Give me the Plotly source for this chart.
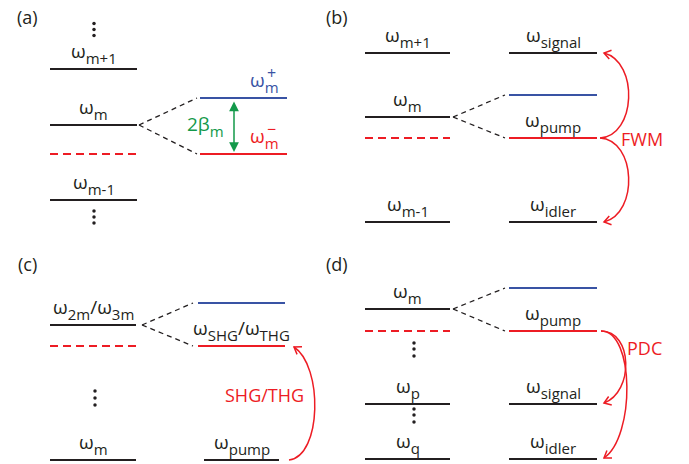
import math
import plotly.graph_objects as go

W, H = 689, 464
FONT = "Open Sans"
BLACK = "#231f20"
RED = "#ed1c24"
BLUE = "#3953a4"
GREEN = "#13994a"

# ---- level energies (diagram units, 0 = bottom edge) ----
# (a) ring ladder and the split doublet of mode m
a_names = ["m+1", "m", "m-1"]
a_levels = [395, 339, 264]
a_shifted = 310
a_split = [366, 310]          # ω_m^+, ω_m^-

# (b) four-wave mixing
b_names = ["m+1", "m", "m-1"]
b_levels = [411, 347, 242]
b_shifted = 326
b_split = [369, 326]
b_proc_names = ["signal", "pump", "idler"]
b_proc_levels = [411, 326, 242]

# (c) second/third harmonic generation
c_names = ["2m", "m"]
c_levels = [139, 4]
c_shifted = 118
c_split = [161, 118]
c_pump = 4

# (d) parametric down-conversion
d_names = ["m", "p", "q"]
d_levels = [155, 60, 5]
d_shifted = 133
d_split = [176, 133]
d_proc_names = ["pump", "signal", "idler"]
d_proc_levels = [133, 60, 5]

panel_tags = ["(a)", "(b)", "(c)", "(d)"]
process_tags = ["FWM", "SHG/THG", "PDC"]

# ---- column extents on the canvas ----
A_L, A_R = (50, 137), (200, 287)
B_L, B_R = (365, 450), (509, 597)
C_L, C_R, C_P = (50, 136), (198, 285), (204, 279)
D_L, D_R = B_L, B_R

shapes = []
annotations = []


def hline(span, y, color=BLACK, dash=None, width=2):
    shapes.append(dict(type="line", xref="x", yref="y", x0=span[0], x1=span[1],
                       y0=y, y1=y, line=dict(color=color, width=width,
                                             dash=dash or "solid")))


def connector(x0, y0, x1, y1):
    shapes.append(dict(type="line", xref="x", yref="y", x0=x0, y0=y0, x1=x1, y1=y1,
                       line=dict(color=BLACK, width=1.3, dash="5px,4px")))


def sub(t, extra=""):
    return ("<span style='font-size:15px;baseline-shift:-6px%s'>%s</span>" % (extra, t))


def om(s):
    return "ω" + sub(s)


def om_pm(sign):
    # ω with subscript m and a superscript stacked above the m
    return ("ω" + sub("m", ";letter-spacing:-11.5px")
            + "<span style='font-size:16px;baseline-shift:8px'>%s</span>" % sign)


def text(x, y, s, color=BLACK, size=19, xa="center", ya="bottom"):
    annotations.append(dict(x=x, y=y, xref="x", yref="y", text=s, showarrow=False,
                            xanchor=xa, yanchor=ya, borderpad=0, borderwidth=0,
                            font=dict(family=FONT, size=size, color=color)))


def level_label(span, y, s, color=BLACK):
    text((span[0] + span[1]) / 2, y + 1, s, color)


def curve(p0, p1, p2, p3, color=RED, head=True):
    shapes.append(dict(type="path", xref="x", yref="y",
                       path="M %g,%g C %g,%g %g,%g %g,%g" % (*p0, *p1, *p2, *p3),
                       line=dict(color=color, width=1.5)))
    if head:
        dx, dy = p3[0] - p2[0], p3[1] - p2[1]
        n = math.hypot(dx, dy)
        dx, dy = dx / n, dy / n
        arms = []
        for ang in (0.6, -0.6):
            c, s = math.cos(ang), math.sin(ang)
            rx, ry = dx * c - dy * s, dx * s + dy * c
            arms.append((p3[0] - 8 * rx, p3[1] - 8 * ry))
        shapes.append(dict(type="path", xref="x", yref="y",
                           path="M %g,%g L %g,%g L %g,%g" % (*arms[0], *p3, *arms[1]),
                           line=dict(color=color, width=1.5)))


dots_x = []
dots_y = []


def vdots(x, ys):
    for y in ys:
        dots_x.append(x)
        dots_y.append(y)


# ---------------- (a) ----------------
for name, lv in zip(a_names, a_levels):
    hline(A_L, lv)
    level_label(A_L, lv, om(name))
hline(A_L, a_shifted, RED, "8px,5px")
hline(A_R, a_split[0], BLUE)
hline(A_R, a_split[1], RED)
connector(A_L[1] + 2, a_levels[1], A_R[0] - 3, a_split[0])
connector(A_L[1] + 2, a_levels[1], A_R[0] - 3, a_split[1])
text(250, a_split[0] + 1, om_pm("+"), BLUE, xa="left")
text(250, a_split[1] + 1, om_pm("−"), RED, xa="left")
annotations.append(dict(x=234, y=a_split[1] + 2, ax=234, ay=a_split[0] - 2,
                        xref="x", yref="y", axref="x", ayref="y", text="",
                        showarrow=True, arrowhead=2, arrowside="end+start",
                        arrowsize=1.3, arrowwidth=1.5, arrowcolor=GREEN))
text(224, (a_split[0] + a_split[1]) / 2, "2β" + sub("m"), GREEN, xa="right", ya="middle")
vdots(94, [440.5, 434.5, 428.5])
vdots(94, [253, 247, 241])

# ---------------- (b) ----------------
for name, lv in zip(b_names, b_levels):
    hline(B_L, lv)
    level_label(B_L, lv, om(name))
hline(B_L, b_shifted, RED, "8px,5px")
hline(B_R, b_split[0], BLUE)
for name, lv in zip(b_proc_names, b_proc_levels):
    hline(B_R, lv, RED if name == "pump" else BLACK)
    level_label(B_R, lv, om(name))
connector(B_L[1] + 3, b_levels[1], B_R[0] - 4, b_split[0])
connector(B_L[1] + 3, b_levels[1], B_R[0] - 4, b_split[1])
pump_b = b_proc_levels[1]
curve((600, pump_b), (636, pump_b + 2), (639, b_proc_levels[0] - 9), (604, b_proc_levels[0]))
curve((600, pump_b), (636, pump_b - 2), (639, b_proc_levels[2] + 9), (604, b_proc_levels[2]))
text(621, pump_b - 1, process_tags[0], RED, size=18, xa="left", ya="middle")

# ---------------- (c) ----------------
hline(C_L, c_levels[0])
text((C_L[0] + C_L[1]) / 2, c_levels[0] + 1, om("2m") + "/" + om("3m"))
hline(C_L, c_levels[1])
level_label(C_L, c_levels[1], om(c_names[1]))
hline(C_L, c_shifted, RED, "8px,5px")
hline(C_R, c_split[0], BLUE)
hline(C_R, c_split[1], RED)
text((C_R[0] + C_R[1]) / 2, c_split[1] + 1, om("SHG") + "/" + om("THG"))
hline(C_P, c_pump)
level_label(C_P, c_pump, om("pump"))
connector(C_L[1] + 6, c_levels[0], C_R[0] - 5, c_split[0])
connector(C_L[1] + 6, c_levels[0], C_R[0] - 5, c_split[1])
curve((289, c_pump), (322, c_pump + 4), (323, c_split[1] - 20), (294, c_split[1] - 1))
text(304, 69, process_tags[1], RED, size=18, xa="right", ya="middle")
vdots(95, [73, 66, 59])

# ---------------- (d) ----------------
for name, lv in zip(d_names, d_levels):
    hline(D_L, lv)
    level_label(D_L, lv, om(name))
hline(D_L, d_shifted, RED, "8px,5px")
hline(D_R, d_split[0], BLUE)
for name, lv in zip(d_proc_names, d_proc_levels):
    hline(D_R, lv, RED if name == "pump" else BLACK)
    level_label(D_R, lv, om(name))
connector(D_L[1] + 3, d_levels[0], D_R[0] - 4, d_split[0])
connector(D_L[1] + 3, d_levels[0], D_R[0] - 4, d_split[1])
pump_d = d_proc_levels[0]
curve((601, pump_d), (633, pump_d), (634, d_proc_levels[1] + 12), (604, d_proc_levels[1] + 1))
curve((601, pump_d), (635, pump_d), (635, d_proc_levels[2] + 22), (604, d_proc_levels[2] + 1))
text(627, 116, process_tags[2], RED, size=18, xa="left", ya="middle")
vdots(414, [121, 115, 108])
vdots(414, [55, 49, 42])

# panel tags
for tag, (x, y) in zip(panel_tags, [(27, 447), (337, 447), (27, 200), (337, 200)]):
    text(x, y, tag, BLACK, size=18, ya="middle")

fig = go.Figure(go.Scatter(x=dots_x, y=dots_y, mode="markers",
                           marker=dict(color=BLACK, size=3.5), hoverinfo="skip"))
fig.update_layout(
    width=W, height=H, margin=dict(l=0, r=0, t=0, b=0),
    paper_bgcolor="white", plot_bgcolor="white", showlegend=False,
    xaxis=dict(range=[0, W], visible=False, fixedrange=True),
    yaxis=dict(range=[0, H], visible=False, fixedrange=True),
    shapes=shapes, annotations=annotations,
)
fig.write_html("out.html")
